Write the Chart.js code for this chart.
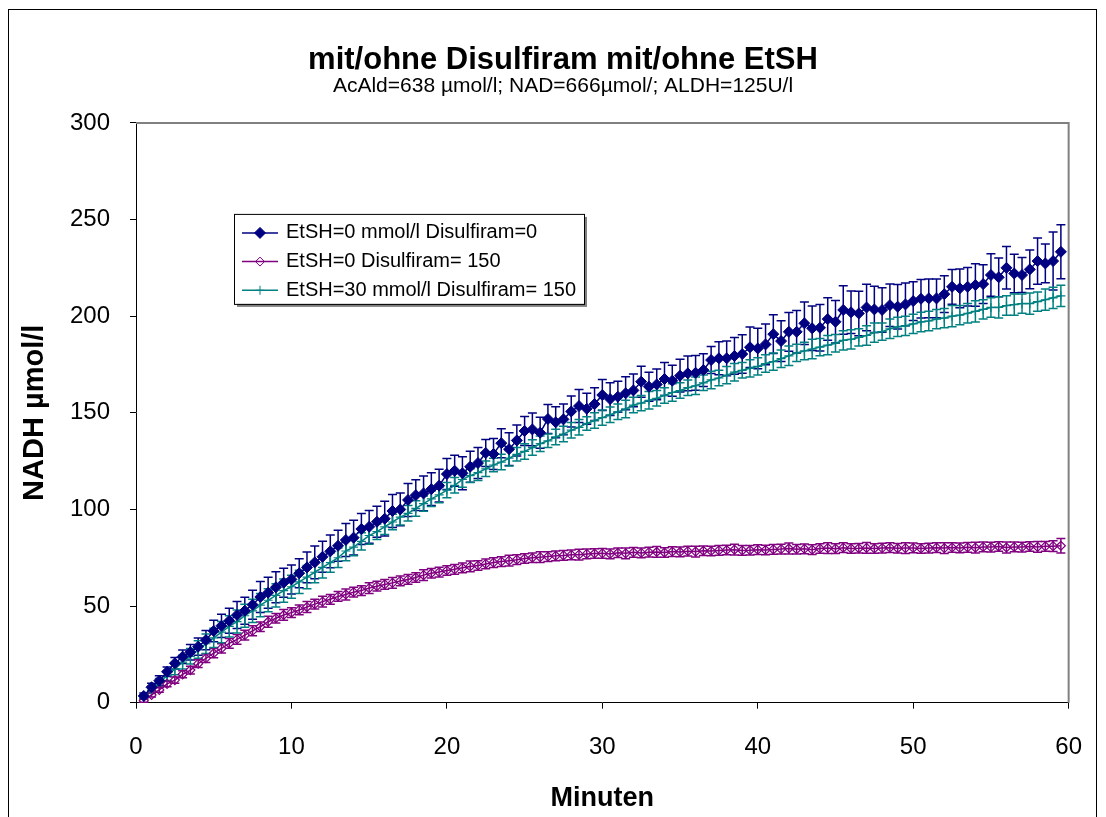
<!DOCTYPE html>
<html>
<head>
<meta charset="utf-8">
<title>mit/ohne Disulfiram mit/ohne EtSH</title>
<script src="https://cdn.jsdelivr.net/npm/chart.js"></script>
<style>
  html, body { margin: 0; padding: 0; background: #fff; }
  canvas { display: block; }
</style>
</head>
<body>
<canvas id="myChart" width="1106" height="817"></canvas>
<script>
/* globals Chart:false */

// Minuten (sampling times)
var minutes = [
  0.5, 1, 1.5, 2, 2.5, 3, 3.5, 4, 4.5, 5, 5.5, 6, 6.5, 7, 7.5, 8, 8.5, 9, 9.5, 10,
  10.5, 11, 11.5, 12, 12.5, 13, 13.5, 14, 14.5, 15, 15.5, 16, 16.5, 17, 17.5, 18, 18.5, 19, 19.5, 20,
  20.5, 21, 21.5, 22, 22.5, 23, 23.5, 24, 24.5, 25, 25.5, 26, 26.5, 27, 27.5, 28, 28.5, 29, 29.5, 30,
  30.5, 31, 31.5, 32, 32.5, 33, 33.5, 34, 34.5, 35, 35.5, 36, 36.5, 37, 37.5, 38, 38.5, 39, 39.5, 40, 40.5,
  41, 41.5, 42, 42.5, 43, 43.5, 44, 44.5, 45, 45.5, 46, 46.5, 47, 47.5, 48, 48.5, 49, 49.5, 50, 50.5,
  51, 51.5, 52, 52.5, 53, 53.5, 54, 54.5, 55, 55.5, 56, 56.5, 57, 57.5, 58, 58.5, 59, 59.5
];

// EtSH=0 mmol/l Disulfiram=0
var ctrlValues = [
  3.5, 8.0, 11.4, 16.0, 20.4, 23.8, 26.1, 29.0, 32.4, 37.1, 39.8, 42.4, 45.4, 47.6, 50.7, 54.7, 56.9, 59.7, 62.1, 63.8,
  67.0, 70.0, 72.6, 75.5, 78.3, 81.2, 84.2, 85.4, 89.9, 91.0, 93.6, 95.2, 99.2, 100.0, 104.9, 107.4, 108.3, 110.5, 112.3, 118.3,
  120.0, 118.7, 122.1, 124.0, 129.2, 128.7, 134.3, 131.2, 135.7, 140.6, 141.4, 139.7, 146.8, 145.1, 146.6, 150.7, 153.5, 152.1, 154.5, 159.2,
  157.1, 158.3, 160.1, 161.6, 166.1, 163.5, 164.7, 167.5, 166.6, 169.2, 170.4, 170.7, 172.1, 177.3, 178.2, 178.2, 179.4, 180.4, 183.9, 183.3, 185.4,
  190.7, 187.1, 191.9, 191.9, 196.3, 193.7, 194.0, 198.5, 197.1, 203.2, 202.0, 201.4, 204.5, 203.5, 203.2, 205.7, 204.9, 206.1, 207.8, 209.0,
  209.2, 209.2, 211.4, 215.2, 214.4, 215.2, 216.1, 216.6, 221.3, 220.1, 225.0, 222.1, 221.3, 224.2, 228.5, 227.3, 228.5, 233.3
];
var ctrlErrors = [
  1.5, 2, 2.5, 2.5, 3, 3.5, 4, 4.5, 5, 5.5, 6, 6.5, 7, 7, 7.5, 8, 8, 8, 7.5, 7.5,
  7.5, 8, 8.5, 8, 8.5, 8, 8.5, 9, 8, 8.5, 8, 9, 8.5, 8.5, 8.5, 8, 9, 8.5, 8.5, 8,
  8, 8.5, 8, 8, 7, 8, 7.5, 8.5, 8, 7.5, 8.5, 8, 7.5, 8, 8, 8, 8.5, 8, 8.5, 8,
  8.5, 8, 8.5, 8.5, 8, 7.5, 8, 8.5, 8, 8.5, 9, 9, 8.5, 7, 8.5, 9, 9.5, 10, 10.5, 10.5, 10.5,
  10, 10.5, 10, 11, 11, 11.5, 12, 11, 11, 12.5, 11, 11.5, 12, 12, 11.5, 11, 11.5, 11, 10, 10,
  10, 10, 9.5, 9, 10, 10, 11, 10, 11, 10, 11, 10, 9, 10, 12, 10, 15, 14
];

// EtSH=0 Disulfiram= 150
var disValues = [
  1.0, 4.0, 6.6, 9.7, 11.7, 14.7, 16.9, 20.2, 23.0, 25.6, 28.1, 30.7, 32.8, 35.0, 37.2, 39.3, 41.9, 43.7, 45.4, 46.6,
  48.0, 49.5, 51.0, 52.3, 53.5, 55.0, 56.0, 57.2, 58.0, 59.3, 60.3, 61.2, 62.0, 63.0, 63.8, 64.8, 66.0, 67.0, 67.6, 68.4,
  69.0, 69.8, 70.5, 71.0, 71.8, 72.5, 73.0, 73.5, 74.0, 74.6, 75.0, 75.3, 75.6, 76.0, 76.2, 76.5, 76.6, 77.0, 77.2, 77.3,
  77.0, 77.6, 77.3, 77.8, 77.5, 77.9, 78.0, 77.7, 78.2, 78.0, 78.4, 78.2, 78.6, 78.5, 78.8, 79.0, 79.2, 78.8, 78.9, 79.2, 79.0,
  79.3, 79.5, 79.8, 79.4, 79.6, 79.2, 79.8, 80.0, 79.7, 80.2, 79.8, 79.9, 80.1, 79.8, 80.0, 80.2, 79.9, 80.0, 80.1, 79.8,
  80.0, 80.2, 80.0, 80.3, 80.1, 80.4, 80.2, 80.6, 80.5, 80.8, 80.3, 80.6, 80.5, 80.8, 80.6, 80.9, 81.0, 81.2
];
var disErrors = [
  0.8, 1, 1.2, 1.4, 1.6, 1.8, 2, 2, 2.2, 2.4, 2.4, 2.5, 2.5, 2.5, 2.6, 2.5, 2.8, 2.5, 2.8, 2.5,
  2.5, 2.8, 2.5, 2.8, 2.5, 2.5, 2.8, 2.5, 2.5, 2.8, 2.5, 2.5, 2.8, 2.5, 2.5, 2.5, 2.8, 2.5, 2.5, 2.5,
  2.5, 2.5, 2.8, 2.5, 2.5, 2.5, 2.5, 2.8, 2.5, 2.5, 2.5, 2.8, 2.5, 2.5, 2.5, 2.5, 2.8, 2.5, 2.5, 2.5,
  2.5, 2.5, 2.8, 2.5, 2.5, 2.5, 2.8, 2.5, 2.5, 2.5, 2.5, 2.8, 2.5, 2.5, 2.5, 2.5, 2.8, 2.5, 2.5, 2.5, 2.5,
  2.5, 2.5, 2.8, 2.5, 2.5, 2.5, 2.5, 2.8, 2.5, 2.5, 2.5, 2.5, 2.8, 2.5, 2.5, 2.5, 2.5, 2.8, 2.5, 2.5,
  2.5, 2.5, 2.8, 2.5, 2.5, 2.5, 2.8, 2.5, 2.5, 2.5, 2.8, 2.5, 2.5, 2.5, 2.8, 2.5, 2.8, 3.8
];

// EtSH=30 mmol/l Disulfiram= 150
var etshValues = [
  3.0, 6.5, 10.5, 14.0, 17.5, 21.0, 24.0, 27.5, 30.5, 33.5, 36.5, 39.5, 42.0, 45.0, 47.5, 50.5, 53.0, 55.5, 58.0, 60.0,
  62.5, 65.0, 67.5, 70.0, 72.5, 75.0, 78.5, 80.5, 83.5, 86.5, 88.5, 91.0, 93.5, 96.0, 98.0, 100.5, 103.0, 105.5, 107.5, 110.0,
  112.5, 115.5, 117.5, 119.0, 121.0, 123.0, 124.5, 126.5, 128.5, 130.0, 132.0, 134.0, 135.5, 137.5, 139.0, 141.0, 142.5, 144.5, 146.0, 147.5,
  149.0, 150.5, 152.0, 154.0, 155.0, 156.5, 157.5, 159.0, 160.5, 161.5, 163.0, 164.0, 165.5, 167.0, 168.0, 169.5, 171.0, 172.0, 173.0, 174.0, 175.5,
  176.5, 178.0, 179.5, 181.0, 182.0, 183.0, 184.0, 185.0, 186.0, 187.5, 188.0, 189.0, 190.0, 191.5, 192.0, 193.5, 194.5, 195.0, 196.0, 197.0,
  197.5, 198.5, 199.0, 200.0, 200.5, 201.5, 202.5, 203.5, 204.5, 204.5, 205.5, 206.0, 206.5, 206.5, 207.5, 208.5, 209.5, 210.5
];
var etshErrors = [
  1, 1.5, 2, 2.5, 3, 3.5, 4, 4.5, 5, 5, 5.5, 5.5, 6, 6, 6, 6, 6, 6, 6, 6,
  6, 6, 5.5, 5.5, 5, 5, 5, 4.5, 4.5, 4.5, 4, 4, 4, 4, 4, 4, 4, 4, 4, 4,
  4, 4, 3.5, 4, 4, 3.5, 4, 4, 3.5, 4, 4, 4, 3.5, 4, 4, 4, 4, 3.5, 4, 4,
  4, 4, 4.5, 4, 4, 4.5, 4, 4, 4.5, 4, 4, 4.5, 4, 4.5, 4, 4.5, 4.5, 4, 4.5, 4.5, 4.5,
  4.5, 4.5, 5, 4.5, 4.5, 5, 4.5, 5, 4.5, 5, 5, 4.5, 5, 5, 4.5, 5, 5, 5, 5, 5,
  5, 5, 5, 5.5, 5, 5, 5.5, 5, 5, 5.5, 5, 5.5, 5, 5.5, 5, 5.5, 5.5, 5.5
];

var xTicks = [0, 10, 20, 30, 40, 50, 60];
var yTicks = [0, 50, 100, 150, 200, 250, 300];

(function () {
  'use strict'

  Chart.defaults.font.family = '"Liberation Sans", Arial, sans-serif';
  Chart.defaults.color = '#000';

  function points(values) {
    return values.map(function (v, i) { return { x: minutes[i], y: v }; });
  }

  var errorSets = [ctrlErrors, disErrors, etshErrors];

  // vertical error bars with caps, from the error arrays
  var errorBars = {
    id: 'errorBars',
    beforeDatasetsDraw: function (chart) {
      var ctx = chart.ctx;
      var xs = chart.scales.x, ys = chart.scales.y;
      chart.data.datasets.forEach(function (ds, i) {
        var errs = errorSets[i];
        ctx.save();
        ctx.strokeStyle = ds.borderColor;
        ctx.lineWidth = 1.5;
        ds.data.forEach(function (p, j) {
          var px = xs.getPixelForValue(p.x);
          var top = ys.getPixelForValue(p.y + errs[j]);
          var bot = ys.getPixelForValue(p.y - errs[j]);
          ctx.beginPath();
          ctx.moveTo(px, top); ctx.lineTo(px, bot);
          ctx.moveTo(px - 4.5, top); ctx.lineTo(px + 4.5, top);
          ctx.moveTo(px - 4.5, bot); ctx.lineTo(px + 4.5, bot);
          ctx.stroke();
        });
        ctx.restore();
      });
    }
  };

  // outer frame and grey plot-area edges
  var frame = {
    id: 'frame',
    beforeDraw: function (chart) {
      var ctx = chart.ctx;
      ctx.save();
      ctx.fillStyle = '#fff';
      ctx.fillRect(0, 0, chart.width, chart.height);
      ctx.strokeStyle = '#000';
      ctx.lineWidth = 1;
      ctx.strokeRect(8.5, 9.5, 1088, 900);
      ctx.restore();
    },
    beforeDatasetsDraw: function (chart) {
      var ctx = chart.ctx, a = chart.chartArea;
      ctx.save();
      ctx.strokeStyle = '#808080';
      ctx.lineWidth = 2;
      ctx.beginPath();
      ctx.moveTo(a.left, a.top);
      ctx.lineTo(a.right, a.top);
      ctx.lineTo(a.right, a.bottom);
      ctx.stroke();
      ctx.restore();
    }
  };

  // boxed legend inside the plot area
  var legendBox = {
    id: 'legendBox',
    afterDraw: function (chart) {
      var ctx = chart.ctx, a = chart.chartArea;
      var left = a.left + 98, top = a.top + 91, w = 350, h = 90;
      ctx.save();
      ctx.fillStyle = '#808080';
      ctx.fillRect(left + 3, top + 3, w, h);
      ctx.fillStyle = '#fff';
      ctx.fillRect(left, top, w, h);
      ctx.strokeStyle = '#000';
      ctx.lineWidth = 1;
      ctx.strokeRect(left + 0.5, top + 0.5, w, h);
      ctx.font = '20px "Liberation Sans", Arial, sans-serif';
      ctx.textBaseline = 'middle';
      chart.data.datasets.forEach(function (ds, i) {
        var y = top + 19 + i * 28.7;
        var mx = left + 26;
        ctx.strokeStyle = ds.borderColor;
        ctx.lineWidth = 1.5;
        ctx.beginPath();
        ctx.moveTo(left + 8, y); ctx.lineTo(left + 44, y);
        ctx.stroke();
        var r = ds.pointRadius;
        ctx.lineWidth = 1;
        ctx.beginPath();
        if (ds.pointStyle === 'rectRot') {
          ctx.moveTo(mx, y - r); ctx.lineTo(mx + r, y);
          ctx.lineTo(mx, y + r); ctx.lineTo(mx - r, y);
          ctx.closePath();
          ctx.fillStyle = ds.pointBackgroundColor;
          ctx.fill();
          ctx.stroke();
        } else {
          ctx.moveTo(mx, y - r); ctx.lineTo(mx, y + r);
          ctx.moveTo(mx - r, y); ctx.lineTo(mx + r, y);
          ctx.stroke();
        }
        ctx.fillStyle = '#000';
        ctx.fillText(ds.label, left + 52, y);
      });
      ctx.restore();
    }
  };

  var ctx = document.getElementById('myChart');

  var myChart = new Chart(ctx, {
    type: 'line',
    data: {
      datasets: [
        {
          label: 'EtSH=0 mmol/l Disulfiram=0',
          data: points(ctrlValues),
          borderColor: '#000080',
          borderWidth: 1.5,
          pointStyle: 'rectRot',
          pointRadius: 5.5,
          pointBorderWidth: 1,
          pointBackgroundColor: '#000080',
          pointBorderColor: '#000080',
          tension: 0,
          fill: false
        },
        {
          label: 'EtSH=0 Disulfiram= 150',
          data: points(disValues),
          borderColor: '#800080',
          borderWidth: 1.5,
          pointStyle: 'rectRot',
          pointRadius: 4.5,
          pointBorderWidth: 1.2,
          pointBackgroundColor: 'rgba(255,255,255,0)',
          pointBorderColor: '#800080',
          tension: 0,
          fill: false
        },
        {
          label: 'EtSH=30 mmol/l Disulfiram= 150',
          data: points(etshValues),
          borderColor: '#008080',
          borderWidth: 1.5,
          pointStyle: 'cross',
          pointRadius: 4.5,
          pointBorderWidth: 1.2,
          pointBackgroundColor: '#008080',
          pointBorderColor: '#008080',
          tension: 0,
          fill: false
        }
      ]
    },
    options: {
      responsive: false,
      animation: false,
      devicePixelRatio: 1,
      events: [],
      layout: {
        padding: { top: 10, left: 20, right: 0, bottom: 0 }
      },
      scales: {
        x: {
          type: 'linear',
          min: 0,
          max: 60,
          afterBuildTicks: function (scale) {
            scale.ticks = xTicks.map(function (v) { return { value: v }; });
          },
          afterFit: function (scale) { scale.height = 114.3; },
          ticks: {
            font: { size: 24 },
            color: '#000',
            padding: 24,
            maxRotation: 0
          },
          grid: {
            drawOnChartArea: false,
            drawTicks: true,
            tickLength: 6,
            color: '#000'
          },
          border: { display: true, color: '#000', width: 1 },
          title: {
            display: true,
            text: 'Minuten',
            font: { size: 27, weight: 'bold' },
            color: '#000',
            padding: { top: 0, bottom: 2 }
          }
        },
        y: {
          type: 'linear',
          min: 0,
          max: 300,
          afterBuildTicks: function (scale) {
            scale.ticks = yTicks.map(function (v) { return { value: v }; });
          },
          afterFit: function (scale) { scale.width = 116; },
          ticks: {
            font: { size: 24 },
            color: '#000',
            padding: 20
          },
          grid: {
            drawOnChartArea: false,
            drawTicks: true,
            tickLength: 6,
            color: '#000'
          },
          border: { display: true, color: '#000', width: 1 },
          title: {
            display: true,
            text: 'NADH µmol/l',
            font: { size: 29, weight: 'bold' },
            color: '#000',
            padding: { top: -2, bottom: 0 }
          }
        },
        spacer: {
          type: 'linear',
          position: 'right',
          display: true,
          afterFit: function (scale) { scale.width = 36; },
          ticks: { display: false },
          grid: { display: false },
          border: { display: false }
        }
      },
      plugins: {
        legend: { display: false },
        tooltip: { enabled: false },
        title: {
          display: true,
          text: 'mit/ohne Disulfiram mit/ohne EtSH',
          font: { size: 31, weight: 'bold' },
          color: '#000',
          padding: { top: 32, bottom: -6 }
        },
        subtitle: {
          display: true,
          text: 'AcAld=638 µmol/l; NAD=666µmol/; ALDH=125U/l',
          font: { size: 21 },
          color: '#000',
          padding: { top: 0, bottom: 24.5 }
        }
      }
    },
    plugins: [frame, errorBars, legendBox]
  })

})()
</script>
</body>
</html>
